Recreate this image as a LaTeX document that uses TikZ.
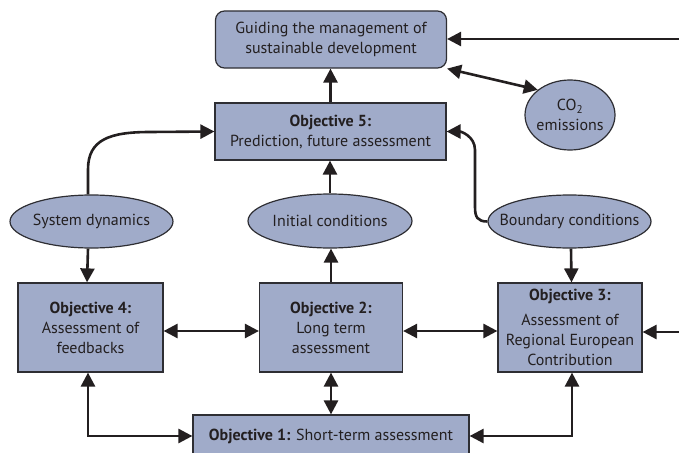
\documentclass[tikz,border=0pt]{standalone}
\usepackage{fontspec}
\setmainfont{PT Sans}
\usetikzlibrary{arrows.meta,shapes.geometric,calc}
\definecolor{boxfill}{HTML}{A0ABC9}
\definecolor{ink}{HTML}{231F20}
\definecolor{edge}{HTML}{2E2E33}
\newcommand{\zw}[1]{\makebox[0pt]{#1}}
\begin{document}
\begin{tikzpicture}[x=1pt,y=-1pt,
  every node/.style={text=ink,font=\fontsize{16}{20}\selectfont,align=center,inner sep=0pt},
  sqbox/.style={draw=edge,line width=1.2pt,fill=boxfill,rectangle},
  rbox/.style={sqbox,rounded corners=9pt},
  oval/.style={draw=edge,line width=1.2pt,fill=boxfill,ellipse},
  conn/.style={draw=ink,line width=2.6pt,-{Triangle[length=14pt,width=14pt]}},
  dconn/.style={draw=ink,line width=2.6pt,{Triangle[length=14pt,width=14pt]}-{Triangle[length=14pt,width=14pt]}}
]
\useasboundingbox (0,0) rectangle (679,452);
% nodes
\node[rbox,minimum width=231pt,minimum height=57pt] (top) at (331,39.5) {Guiding the management of\\sustainable development};
\node[sqbox,minimum width=231pt,minimum height=57pt] (obj5) at (330.5,131.5) {\textbf{Objective 5:}\\Prediction, future assessment};
\node[oval,minimum width=90pt,minimum height=70pt] (co2) at (570,115) {\zw{CO\textsubscript{2}}\\\zw{emissions}};
\node[oval,minimum width=163pt,minimum height=53pt] (sysdyn) at (91.5,221.5) {\zw{System dynamics}};
\node[oval,minimum width=164pt,minimum height=54pt] (init) at (330,221) {\zw{Initial conditions}};
\node[oval,minimum width=163pt,minimum height=53pt] (bound) at (569.5,221.5) {\zw{Boundary conditions}};
\node[sqbox,minimum width=145pt,minimum height=89pt] (obj4) at (90.5,327.5) {\textbf{Objective 4:}\\Assessment of\\feedbacks};
\node[sqbox,minimum width=143pt,minimum height=89pt] (obj2) at (331,327.5) {\textbf{Objective 2:}\\Long term\\assessment};
\node[sqbox,minimum width=144pt,minimum height=89pt] (obj3) at (570,327.5) {\fontsize{16}{16}\selectfont\textbf{Objective 3:}\\[5pt]Assessment of\\Regional European\\Contribution};
\node[sqbox,minimum width=276pt,minimum height=42pt] (obj1) at (331,436) {\textbf{Objective 1:} Short-term assessment};
% free ends at the right edge
\coordinate (r1) at (690,39);
\coordinate (r2) at (690,332);
% connectors
\draw[conn] (r1) -- (r1 -| top.east);
\draw[dconn] (top.south east) -- (co2.north west);
\draw[conn] (obj5.north) -- (obj5.north |- top.south);
\draw[conn] (init.north) -- (init.north |- obj5.south);
\draw[conn] (obj2.north) -- (obj2.north |- init.south);
\draw[conn] ([xshift=-3.5pt]sysdyn.north) -- ++(0,-25) .. controls +(0,-30) and +(-40,0) .. (150,132) -- (obj5.west);
\draw[conn] (bound.west) .. controls +(-10,0) and +(0,10) .. (475,207) -- (475,150) .. controls +(0,-14) and +(14,0) .. (obj5.east);
\draw[conn] ([xshift=-3.5pt]sysdyn.south) -- ([xshift=-3.5pt]obj4.north);
\draw[conn] ([xshift=1.5pt]bound.south) -- ([xshift=1.5pt]obj3.north);
\draw[dconn] ([yshift=-3.5pt]obj4.east) -- ([yshift=-3.5pt]obj2.west);
\draw[dconn] ([yshift=-3.5pt]obj2.east) -- ([yshift=-3.5pt]obj3.west);
\draw[conn] (r2) -- (r2 -| obj3.east);
\draw[dconn] (obj2.south) -- (obj2.south |- obj1.north);
\draw[dconn] ([xshift=-2.5pt]obj4.south) |- (obj1.west);
\draw[dconn] ([xshift=2pt]obj3.south) |- (obj1.east);
\end{tikzpicture}
\end{document}
